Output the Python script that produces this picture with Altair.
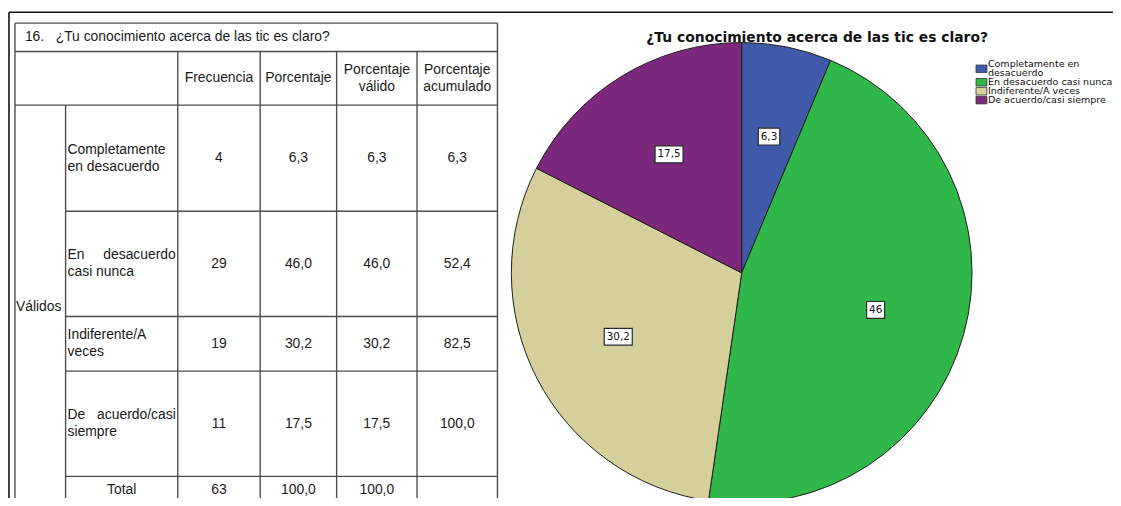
import altair as alt
import pandas as pd

# ---------------- data ----------------
item_number = "16."
question = "¿Tu conocimiento acerca de las tic es claro?"
group_label = "Válidos"
total_label = "Total"
header_labels = [["Frecuencia"], ["Porcentaje"], ["Porcentaje", "válido"], ["Porcentaje", "acumulado"]]
row_labels = [
    [["Completamente"], ["en desacuerdo"]],
    [["En", "desacuerdo"], ["casi nunca"]],
    [["Indiferente/A"], ["veces"]],
    [["De", "acuerdo/casi"], ["siempre"]],
]
frecuencia = ["4", "29", "19", "11"]
porcentaje = ["6,3", "46,0", "30,2", "17,5"]
porcentaje_valido = ["6,3", "46,0", "30,2", "17,5"]
porcentaje_acumulado = ["6,3", "52,4", "82,5", "100,0"]
total_values = ["63", "100,0", "100,0", ""]

categories = ["Completamente en desacuerdo", "En desacuerdo casi nunca",
              "Indiferente/A veces", "De acuerdo/casi siempre"]
legend_lines = [["Completamente en", "desacuerdo"], ["En desacuerdo casi nunca"],
                ["Indiferente/A veces"], ["De acuerdo/casi siempre"]]
pie_values = [6.3, 46.0, 30.2, 17.5]
pie_labels = ["6,3", "46", "30,2", "17,5"]
colors = ["#3f5aa9", "#2fb74a", "#d5cf9b", "#7c287c"]

# ---------------- layout (page pixels) ----------------
W, H = 1113, 490
OX, OY = 8, 8
COLS = [15, 66, 179, 262, 339, 420, 501]
ROWS = [21.5, 50, 104, 211, 317, 372, 478, 506]
LH = 17
FONT = "Liberation Sans"
PFONT = "DejaVu Sans"
TSIZE = 14
CX, CY, R, LR = 747, 273, 232, 140

xs = alt.Scale(domain=[OX, OX + W], nice=False, zero=False)
ys = alt.Scale(domain=[OY, OY + H], nice=False, zero=False, reverse=True)

# ---------------- table lines ----------------
frame_segs = [dict(x=9, x2=1121, y=10.5, y2=10.5), dict(x=9, x2=9, y=10.5, y2=506)]
grid_segs = []
for yv in ROWS[0:3]:
    grid_segs.append(dict(x=COLS[0], x2=COLS[-1], y=yv, y2=yv))
for yv in ROWS[3:7]:
    grid_segs.append(dict(x=COLS[1], x2=COLS[-1], y=yv, y2=yv))
grid_segs.append(dict(x=COLS[0], x2=COLS[0], y=ROWS[0], y2=ROWS[-1]))
grid_segs.append(dict(x=COLS[-1], x2=COLS[-1], y=ROWS[0], y2=ROWS[-1]))
for xv in COLS[2:6]:
    grid_segs.append(dict(x=xv, x2=xv, y=ROWS[1], y2=ROWS[-1]))
grid_segs.append(dict(x=COLS[1], x2=COLS[1], y=ROWS[2], y2=ROWS[-1]))


def rule_layer(segs, color, width):
    return alt.Chart(pd.DataFrame(segs)).mark_rule(color=color, strokeWidth=width).encode(
        x=alt.X("x:Q", scale=xs, axis=None),
        x2="x2:Q",
        y=alt.Y("y:Q", scale=ys, axis=None),
        y2="y2:Q",
    )


frame_lines = rule_layer(frame_segs, "#111111", 1.6)
grid_lines = rule_layer(grid_segs, "#4d4d4d", 1.4)

# ---------------- table texts ----------------
left_t, center_t, right_t = [], [], []
left_t.append(dict(x=25, y=35.5, t=item_number))
left_t.append(dict(x=56, y=35.5, t=question))
left_t.append(dict(x=16, y=(ROWS[2] + ROWS[-1]) / 2 + 2, t=group_label))


def col_center(i):
    return (COLS[i] + COLS[i + 1]) / 2


hy = (ROWS[1] + ROWS[2]) / 2
for ci, hl in enumerate(header_labels):
    n = len(hl)
    for j, s in enumerate(hl):
        center_t.append(dict(x=col_center(2 + ci), y=hy + (j - (n - 1) / 2) * LH, t=s))

value_cols = [frecuencia, porcentaje, porcentaje_valido, porcentaje_acumulado]
for ri, rl in enumerate(row_labels):
    cy = (ROWS[2 + ri] + ROWS[3 + ri]) / 2
    n = len(rl)
    for j, parts in enumerate(rl):
        yy = cy + (j - (n - 1) / 2) * LH
        left_t.append(dict(x=COLS[1] + 2, y=yy, t=parts[0]))
        if len(parts) > 1:
            right_t.append(dict(x=COLS[2] - 2, y=yy, t=parts[1]))
    for ci, vals in enumerate(value_cols):
        center_t.append(dict(x=col_center(2 + ci), y=cy, t=vals[ri]))

ty = (ROWS[6] + ROWS[7]) / 2
center_t.append(dict(x=col_center(1), y=ty, t=total_label))
for ci, v in enumerate(total_values):
    if v:
        center_t.append(dict(x=col_center(2 + ci), y=ty, t=v))


def text_layer(rows, align):
    return alt.Chart(pd.DataFrame(rows)).mark_text(
        align=align, baseline="middle", font=FONT, fontSize=TSIZE, color="#1a1a1a"
    ).encode(
        x=alt.X("x:Q", scale=xs, axis=None),
        y=alt.Y("y:Q", scale=ys, axis=None),
        text="t:N",
    )


# ---------------- pie ----------------
color_scale = alt.Scale(domain=categories, range=colors)
pie_df = pd.DataFrame({"cat": categories, "value": pie_values,
                       "order": list(range(len(categories))), "label": pie_labels})

arc = alt.Chart(pie_df).mark_arc(outerRadius=R, stroke="#1e1e1e", strokeWidth=1).encode(
    theta=alt.Theta("value:Q", stack=True),
    color=alt.Color("cat:N", scale=color_scale, legend=None),
    order=alt.Order("order:Q"),
    x=alt.value(CX - OX),
    y=alt.value(CY - OY),
)

lab_base = alt.Chart(pie_df).transform_window(
    cum="sum(value)", sort=[alt.SortField("order")], frame=[None, 0]
).transform_joinaggregate(total="sum(value)").transform_calculate(
    mid="(datum.cum - datum.value / 2) / datum.total * 2 * PI",
    lx=f"{CX} + {LR} * sin(datum.mid)",
    ly=f"{CY} - {LR} * cos(datum.mid)",
    nd="length(replace(datum.label, ',', ''))",
).transform_calculate(
    hw="(6.6 * datum.nd + 3.4 * (length(datum.label) - datum.nd) + 5) / 2",
).transform_calculate(
    bx1="datum.lx - datum.hw", bx2="datum.lx + datum.hw",
    by1="datum.ly - 8.5", by2="datum.ly + 8.5",
)

lab_box = lab_base.mark_rect(fill="white", stroke="#2a2a2a", strokeWidth=1.2).encode(
    x=alt.X("bx1:Q", scale=xs, axis=None), x2="bx2:Q",
    y=alt.Y("by1:Q", scale=ys, axis=None), y2="by2:Q",
)
lab_txt = lab_base.mark_text(font=PFONT, fontSize=10.5, color="#111111", baseline="middle").encode(
    x=alt.X("lx:Q", scale=xs, axis=None),
    y=alt.Y("ly:Q", scale=ys, axis=None),
    text="label:N",
)

title_df = pd.DataFrame({"x": [823], "y": [36], "t": [question]})
pie_title = alt.Chart(title_df).mark_text(
    font=PFONT, fontSize=14, fontWeight="bold", color="#111111", align="center", baseline="middle"
).encode(x=alt.X("x:Q", scale=xs, axis=None), y=alt.Y("y:Q", scale=ys, axis=None), text="t:N")

# ---------------- legend ----------------
LEG_X, LEG_TX, LEG_Y0, LEG_P = 983, 995, 63, 9
sw_rows, lt_rows = [], []
k = 0
for cat, ll in zip(categories, legend_lines):
    ys_item = []
    for s in ll:
        yy = LEG_Y0 + k * LEG_P
        lt_rows.append(dict(x=LEG_TX, y=yy, t=s))
        ys_item.append(yy)
        k += 1
    c = sum(ys_item) / len(ys_item)
    sw_rows.append(dict(cat=cat, x=LEG_X, x2=LEG_X + 11, y=c - 3.8, y2=c + 3.8))

legend_sw = alt.Chart(pd.DataFrame(sw_rows)).mark_rect(stroke="#333333", strokeWidth=0.8).encode(
    x=alt.X("x:Q", scale=xs, axis=None), x2="x2:Q",
    y=alt.Y("y:Q", scale=ys, axis=None), y2="y2:Q",
    color=alt.Color("cat:N", scale=color_scale, legend=None),
)
legend_txt = alt.Chart(pd.DataFrame(lt_rows)).mark_text(
    font=PFONT, fontSize=9.6, color="#111111", align="left", baseline="middle"
).encode(x=alt.X("x:Q", scale=xs, axis=None), y=alt.Y("y:Q", scale=ys, axis=None), text="t:N")

chart = alt.layer(
    arc, lab_box, lab_txt, pie_title, legend_sw, legend_txt,
    frame_lines, grid_lines,
    text_layer(left_t, "left"), text_layer(center_t, "center"), text_layer(right_t, "right"),
).properties(
    width=W, height=H, padding=0,
    autosize=alt.AutoSizeParams(type="none"),
    background="white",
).configure_view(stroke=None)

chart.save("out.html", embed_options={"renderer": "svg", "actions": False})
